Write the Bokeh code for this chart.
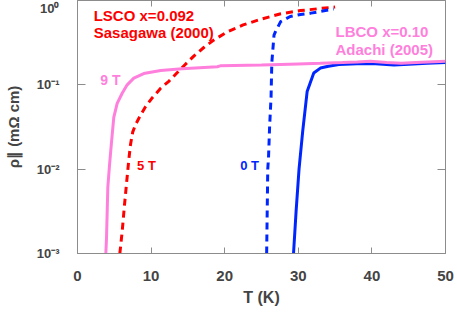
from bokeh.plotting import figure
from bokeh.models import Range1d, FixedTicker, LinearAxis, LogAxis, CustomJSTickFormatter
from bokeh.core.properties import value
from bokeh.embed import file_html
from bokeh.resources import INLINE

# ---------------- data ----------------
# LSCO x=0.092, 5 T (red dashed)
lsco5_T = [5.75, 6.07, 6.39, 6.66, 6.97, 7.2, 7.5, 7.9, 8.56, 9.24, 10.1, 11.3, 12.4,
           13.5, 14.4, 15.8, 17.2, 18.5, 20.4, 22.5, 25.0, 27.5, 30.3, 33.0, 35.0]
lsco5_rho = [0.00100, 0.00182, 0.00380, 0.00676, 0.0129, 0.0195, 0.0275, 0.0339, 0.0437,
             0.0550, 0.0692, 0.0912, 0.110, 0.138, 0.166, 0.219, 0.279, 0.339, 0.427,
             0.513, 0.603, 0.692, 0.759, 0.804, 0.838]

# LSCO x=0.092, 0 T (blue dashed)
lsco0_T = [25.7, 25.85, 25.95, 26.1, 26.3, 26.4, 26.7, 26.9, 27.6, 28.9, 30.3, 31.7, 33.3, 34.8]
lsco0_rho = [0.00100, 0.0100, 0.0135, 0.0316, 0.0724, 0.182, 0.389, 0.427, 0.562, 0.646,
             0.684, 0.708, 0.750, 0.794]

# LBCO x=0.10, 0 T (blue solid)
lbco0_T = [29.35, 29.7, 30.1, 30.6, 31.2, 32.1, 33.0, 34.1, 35.5, 38.0, 40.5, 43.0, 45.0, 47.5, 50.0]
lbco0_rho = [0.00100, 0.00316, 0.0100, 0.0282, 0.0832, 0.138, 0.158, 0.166, 0.174, 0.178,
             0.178, 0.172, 0.175, 0.180, 0.184]

# LBCO x=0.10, 9 T (pink solid)
lbco9_T = [3.85, 3.94, 4.12, 4.35, 4.6, 4.93, 5.39, 6.07, 6.75, 7.65, 9.0, 11.3, 14.2, 19.0,
           19.4, 25.0, 30.0, 33.0, 36.0, 38.0, 39.8, 42.0, 44.0, 46.0, 50.0]
lbco9_rho = [0.00100, 0.00151, 0.00610, 0.0112, 0.0200, 0.0412, 0.0603, 0.0794, 0.100, 0.120,
             0.136, 0.148, 0.155, 0.164, 0.168, 0.172, 0.177, 0.180, 0.184, 0.187, 0.191,
             0.184, 0.180, 0.184, 0.191]

x_ticks = [0, 10, 20, 30, 40, 50]
y_ticks = [1e-3, 1e-2, 1e-1, 1.0]

x_title = "T (K)"
y_title = "ρ∥ (mΩ cm)"
lsco_lines = ["LSCO x=0.092", "Sasagawa (2000)"]
lbco_lines = ["LBCO x=0.10", "Adachi (2005)"]
field_labels = ["9 T", "5 T", "0 T"]

RED = "#ff0000"
BLUE = "#0026ff"
PINK = "#ff7fdc"
GRAY = "#8c8c8c"
FONT = "Liberation Sans"

p = figure(width=457, height=313, output_backend="svg", toolbar_location=None,
           y_axis_type="log", x_range=Range1d(0, 50), y_range=Range1d(1e-3, 1.0),
           min_border_left=77, min_border_right=12, min_border_top=0, min_border_bottom=60,
           background_fill_color="white", border_fill_color="white")
p.grid.visible = False
p.outline_line_color = GRAY
p.outline_line_width = 1

# bottom axis
xa = p.xaxis[0]
xa.ticker = FixedTicker(ticks=x_ticks)
xa.axis_label = x_title
xa.axis_label_text_font = FONT
xa.axis_label_text_font_style = "bold"
xa.axis_label_text_font_size = "16px"
xa.axis_label_standoff = 5
xa.major_label_text_font = FONT
xa.major_label_text_font_style = "bold"
xa.major_label_text_font_size = "15px"
xa.major_label_standoff = 17
xa.major_tick_in = 6
xa.major_tick_out = 0
xa.minor_tick_line_color = None
xa.major_tick_line_color = GRAY
xa.axis_line_color = GRAY

# left axis
ya = p.yaxis[0]
ya.ticker = FixedTicker(ticks=y_ticks)
ya.formatter = CustomJSTickFormatter(code="""
const sup = {"0":"\u2070","1":"\u00b9","2":"\u00b2","3":"\u00b3","-":"\u207b"};
const e = Math.round(Math.log10(tick));
return "10" + String(e).split("").map(c => sup[c]).join("");
""")
ya.axis_label = y_title
ya.axis_label_text_font = FONT
ya.axis_label_text_font_style = "bold"
ya.axis_label_text_font_size = "15px"
ya.axis_label_standoff = 12
ya.major_label_text_font = FONT
ya.major_label_text_font_style = "bold"
ya.major_label_text_font_size = "13px"
ya.major_label_text_baseline = "top"
ya.major_label_standoff = 18
ya.major_tick_in = 8
ya.major_tick_out = 0
ya.minor_tick_line_color = None
ya.major_tick_line_color = GRAY
ya.axis_line_color = GRAY

# top and right tick-only axes (labels not drawn)
top = LinearAxis(ticker=FixedTicker(ticks=x_ticks), major_label_text_font_size="1px",
                 major_label_text_color=None, major_label_standoff=0,
                 major_tick_in=6, major_tick_out=0,
                 minor_tick_line_color=None, major_tick_line_color=GRAY, axis_line_color=None)
p.add_layout(top, "above")
right = LogAxis(ticker=FixedTicker(ticks=y_ticks), major_label_text_font_size="1px",
                major_label_text_color=None, major_label_standoff=0,
                major_tick_in=8, major_tick_out=0,
                minor_tick_line_color=None, major_tick_line_color=GRAY, axis_line_color=None)
p.add_layout(right, "right")

# curves
p.line(lsco5_T, lsco5_rho, line_color=RED, line_width=3, line_dash="7 5")
p.line(lsco0_T, lsco0_rho, line_color=BLUE, line_width=3, line_dash="7 5")
p.line(lbco0_T, lbco0_rho, line_color=BLUE, line_width=3)
p.line(lbco9_T, lbco9_rho, line_color=PINK, line_width=3)

# annotations
common = dict(text_font=value(FONT), text_font_style="bold", text_baseline="middle",
              text_align="left")
p.text(x=[2.2, 2.2], y=[0.667, 0.414], text=lsco_lines, text_color=RED,
       text_font_size="15px", **common)
p.text(x=[35.05, 35.05], y=[0.43, 0.266], text=lbco_lines, text_color=PINK,
       text_font_size="15px", **common)
p.text(x=[3.1], y=[0.115], text=[field_labels[0]], text_color=PINK,
       text_font_size="14px", **common)
p.text(x=[8.1], y=[0.0111], text=[field_labels[1]], text_color=RED,
       text_font_size="13px", **common)
p.text(x=[22.1], y=[0.0111], text=[field_labels[2]], text_color=BLUE,
       text_font_size="13px", **common)

open("out.html", "w").write(file_html(p, INLINE))
